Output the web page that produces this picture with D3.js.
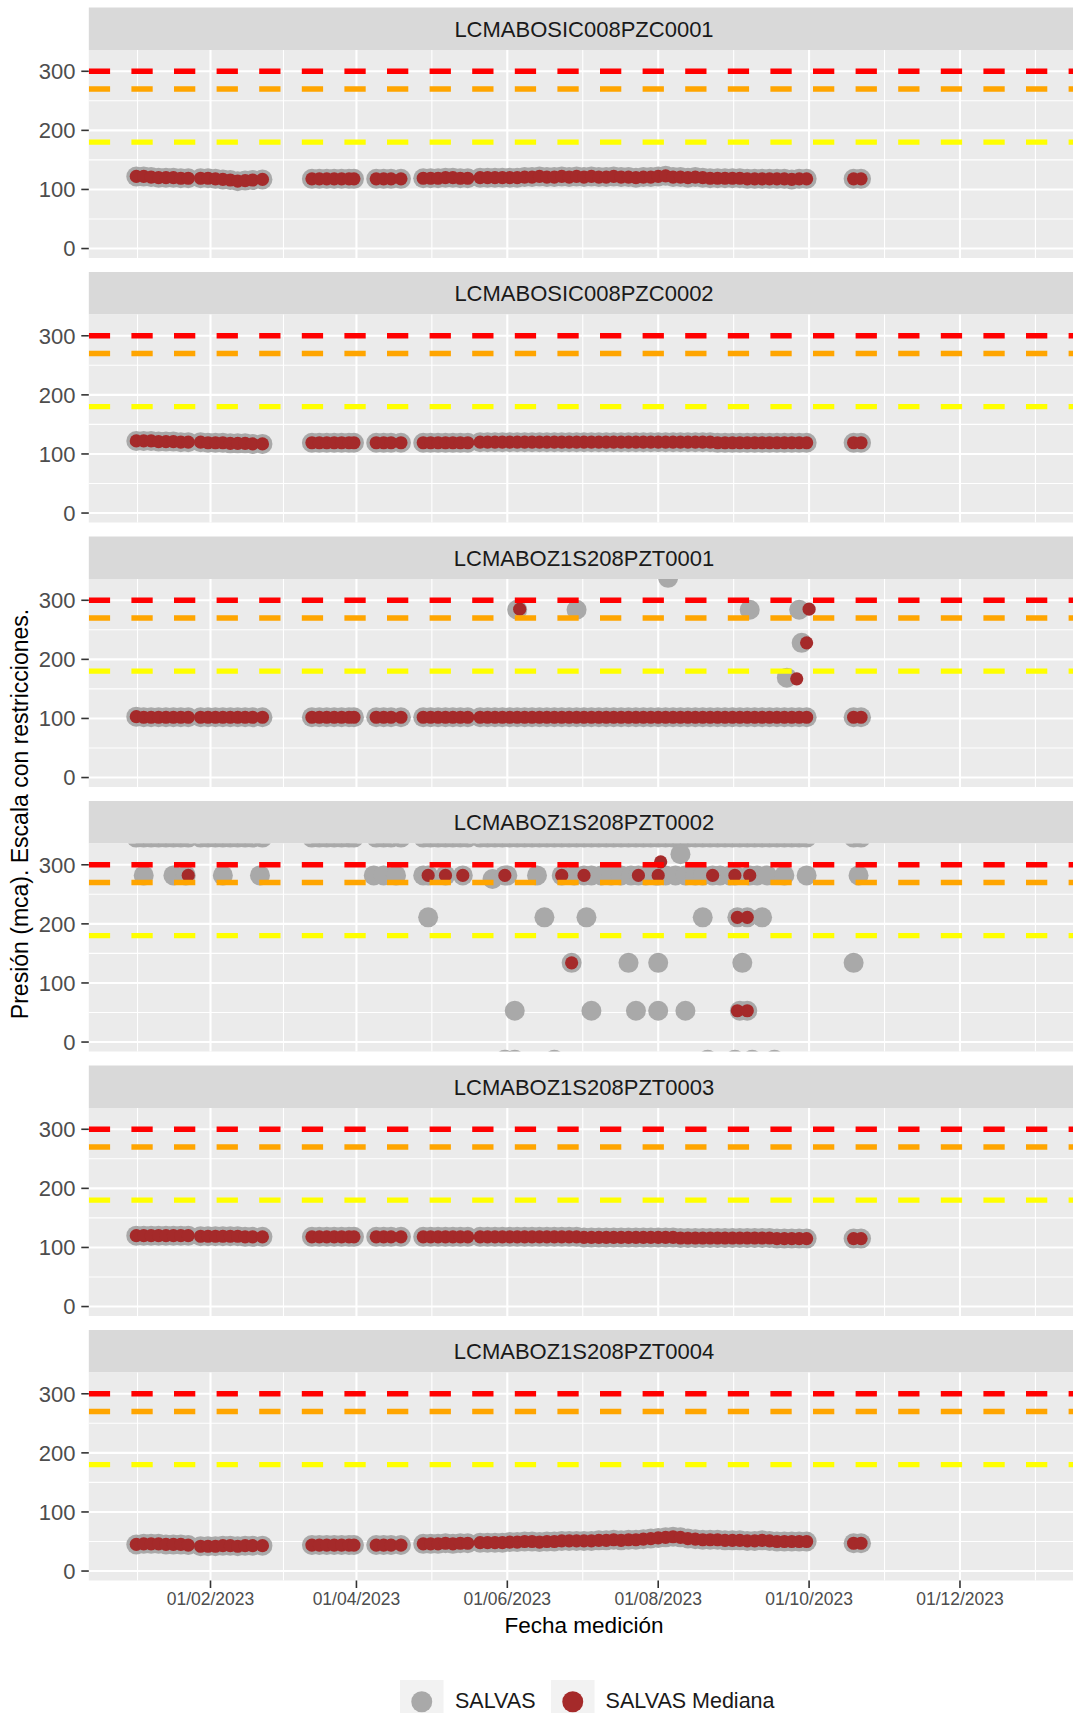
<!DOCTYPE html>
<html><head><meta charset="utf-8">
<script src="https://cdn.jsdelivr.net/npm/d3@7"></script>
<style>
body{margin:0;background:#fff}
svg{display:block;font-family:"Liberation Sans",Arial,Helvetica,sans-serif}
</style>
</head><body>
<svg id="chart" width="1073" height="1713"></svg>
<script>
// ---------------- DATA ----------------
const panelNames = ["LCMABOSIC008PZC0001","LCMABOSIC008PZC0002","LCMABOZ1S208PZT0001","LCMABOZ1S208PZT0002","LCMABOZ1S208PZT0003","LCMABOZ1S208PZT0004"];

const fechas = [
"2023-01-02","2023-01-05","2023-01-08","2023-01-11","2023-01-14","2023-01-17","2023-01-20","2023-01-23","2023-01-28","2023-01-31","2023-02-03","2023-02-06","2023-02-09","2023-02-12","2023-02-15","2023-02-18","2023-02-22",
"2023-03-14","2023-03-17","2023-03-20","2023-03-23","2023-03-26","2023-03-29","2023-03-31",
"2023-04-09","2023-04-12","2023-04-15","2023-04-19",
"2023-04-28","2023-05-01","2023-05-04","2023-05-07","2023-05-10","2023-05-13","2023-05-16","2023-05-21","2023-05-24","2023-05-27","2023-05-30",
"2023-06-02","2023-06-05","2023-06-08","2023-06-11","2023-06-14","2023-06-17","2023-06-20","2023-06-23","2023-06-26","2023-06-29",
"2023-07-02","2023-07-05","2023-07-08","2023-07-11","2023-07-14","2023-07-17","2023-07-20","2023-07-23","2023-07-26","2023-07-29",
"2023-08-01","2023-08-04","2023-08-07","2023-08-10","2023-08-13","2023-08-16","2023-08-19","2023-08-22","2023-08-25","2023-08-28","2023-08-31",
"2023-09-03","2023-09-06","2023-09-09","2023-09-12","2023-09-15","2023-09-18","2023-09-21","2023-09-24","2023-09-27","2023-09-30",
"2023-10-19","2023-10-22"];

const salvasPZC0001 = [
122,122,121,120,120,120,119,119,119,119,118,117,116,114,115,116,117,
118,118,118,118,118,118,118,
118,118,118,118,
119,119,119,120,120,119,119,120,120,120,120,
120,120,121,121,122,121,121,122,121,122,
121,122,121,121,122,121,121,120,121,121,
122,123,121,121,120,121,120,119,119,119,119,
119,118,118,118,118,118,118,117,118,118,
118,118];
const medianaPZC0001 = salvasPZC0001;

const salvasPZC0002 = [
122,122,122,121,121,121,120,120,120,119,119,119,118,118,118,117,117,
119,119,119,119,119,119,119,
119,119,119,119,
119,119,119,119,119,119,119,120,120,120,120,
120,120,120,120,120,120,120,120,120,120,
120,120,120,120,120,120,120,120,120,120,
120,120,120,120,120,120,120,120,119,119,119,
119,119,119,119,119,119,119,119,119,119,
119,119];
const medianaPZC0002 = salvasPZC0002;

const basePZT0001 = [
103,102,102,102,102,102,102,102,102,102,102,102,102,102,102,102,102,
102,102,102,102,102,102,102,
102,102,102,102,
102,102,102,102,102,102,102,102,102,102,102,
102,102,102,102,102,102,102,102,102,102,
102,102,102,102,102,102,102,102,102,102,
102,102,102,102,102,102,102,102,102,102,102,
102,102,102,102,102,102,102,102,102,102,
102,102];
const salvasExtraFechasPZT0001 = ["2023-06-05","2023-06-29","2023-08-05","2023-09-07","2023-09-22","2023-09-27","2023-09-28"];
const salvasExtraValoresPZT0001 = [284,284,338,284,169,284,228];
const medianaExtraFechasPZT0001 = ["2023-06-06","2023-09-26","2023-09-30","2023-10-01"];
const medianaExtraValoresPZT0001 = [285,167,228,285];

// PZT0002: readings above the visible range (clipped at the panel top)
const salvasTopePZT0002 = [
346,346,346,346,346,346,346,346,346,346,346,346,346,346,346,346,346,
346,346,346,346,346,346,346,
346,346,346,346,
346,346,346,346,346,346,346,346,346,346,346,
346,346,346,346,346,346,346,346,346,346,
346,346,346,346,346,346,346,346,346,346,
346,346,346,346,346,346,346,346,346,346,346,
346,346,346,346,346,346,346,346,346,346,
346,346];
const salvasFechasPZT0002 = [
"2023-01-05","2023-01-17","2023-01-22","2023-02-06","2023-02-21",
"2023-04-08","2023-04-12","2023-04-17","2023-04-28","2023-04-30","2023-05-07","2023-05-14","2023-05-26","2023-05-31","2023-06-01","2023-06-13","2023-06-23","2023-06-28",
"2023-07-02","2023-07-05","2023-07-09","2023-07-13","2023-07-17","2023-07-21","2023-07-24","2023-07-27","2023-07-31",
"2023-08-01","2023-08-04","2023-08-08","2023-08-12","2023-08-16","2023-08-19","2023-08-23","2023-08-26","2023-08-30",
"2023-09-01","2023-09-07","2023-09-10","2023-09-14","2023-09-21","2023-09-30","2023-10-21",
"2023-04-30","2023-06-16","2023-07-03","2023-08-19","2023-09-02","2023-09-06","2023-09-12",
"2023-06-27","2023-07-20","2023-08-01","2023-09-04","2023-10-19",
"2023-06-04","2023-07-05","2023-07-23","2023-08-01","2023-08-12","2023-09-03","2023-09-06",
"2023-08-10",
"2023-05-31","2023-06-04","2023-06-20","2023-08-21","2023-09-01","2023-09-08","2023-09-17"];
const salvasValoresPZT0002 = [
282,282,282,282,282,
282,282,282,282,282,282,282,276,282,282,282,282,282,
282,282,282,282,282,282,282,282,282,
282,282,282,282,282,282,282,282,282,
282,282,282,282,282,282,282,
211,211,211,211,211,211,211,
134,134,134,134,134,
53,53,53,53,53,53,53,
318,
-30,-30,-30,-30,-30,-30,-30];
const medianaFechasPZT0002 = ["2023-01-23","2023-04-30","2023-05-07","2023-05-14","2023-05-31","2023-06-23","2023-06-27","2023-07-02","2023-07-24","2023-08-01","2023-08-02","2023-08-23","2023-09-01","2023-09-02","2023-09-02","2023-09-06","2023-09-06","2023-09-07"];
const medianaValoresPZT0002 = [282,282,282,282,282,282,134,282,282,282,305,282,282,211,53,211,53,282];

const salvasPZT0003 = [
120,120,120,120,120,120,120,120,119,119,119,119,119,119,118,118,118,
118,118,118,118,118,118,118,
118,118,118,118,
118,118,118,118,118,118,118,118,118,118,118,
118,118,118,118,118,118,118,118,118,118,
117,117,117,117,117,117,117,117,117,117,
117,117,117,116,116,116,116,116,116,116,116,
116,116,116,116,116,115,115,115,115,115,
115,115];
const medianaPZT0003 = salvasPZT0003;

const salvasPZT0004 = [
45,46,46,46,45,45,45,44,42,42,42,43,43,42,43,43,43,
44,44,44,44,44,44,44,
44,44,44,44,
46,46,46,47,46,47,47,48,48,48,48,
49,49,50,50,49,50,50,51,51,51,
51,51,52,52,53,52,53,53,54,55,
56,57,58,57,55,54,53,53,53,52,52,
52,51,51,52,51,50,50,50,50,50,
47,47];
const medianaPZT0004 = salvasPZT0004;

const limiteRojo = 300, limiteNaranja = 270, limiteAmarillo = 180;
const yTicks = [0, 100, 200, 300];
const yMinor = [50, 150, 250];
const xTickFechas = ["2023-02-01","2023-04-01","2023-06-01","2023-08-01","2023-10-01","2023-12-01"];
const xTickLabels = ["01/02/2023","01/04/2023","01/06/2023","01/08/2023","01/10/2023","01/12/2023"];
const xLimits = ["2023-01-01","2023-12-31"];
const yLimits = [0, 320];
const legendLabels = ["SALVAS","SALVAS Mediana"];

// ---------------- BUILD ----------------
const parse = d3.utcParse("%Y-%m-%d");
const zip = (fs, vs) => fs.map((f, i) => ({date: parse(f), value: vs[i]}));

const panels = [
  {name: panelNames[0], salvas: zip(fechas, salvasPZC0001), mediana: zip(fechas, medianaPZC0001)},
  {name: panelNames[1], salvas: zip(fechas, salvasPZC0002), mediana: zip(fechas, medianaPZC0002)},
  {name: panelNames[2], salvas: zip(fechas, basePZT0001).concat(zip(salvasExtraFechasPZT0001, salvasExtraValoresPZT0001)),
                        mediana: zip(fechas, basePZT0001).concat(zip(medianaExtraFechasPZT0001, medianaExtraValoresPZT0001))},
  {name: panelNames[3], salvas: zip(fechas, salvasTopePZT0002).concat(zip(salvasFechasPZT0002, salvasValoresPZT0002)),
                        mediana: zip(medianaFechasPZT0002, medianaValoresPZT0002)},
  {name: panelNames[4], salvas: zip(fechas, salvasPZT0003), mediana: zip(fechas, medianaPZT0003)},
  {name: panelNames[5], salvas: zip(fechas, salvasPZT0004), mediana: zip(fechas, medianaPZT0004)}
];

const svg = d3.select("#chart");
const xSpan = parse(xLimits[1]) - parse(xLimits[0]);
const x = d3.scaleUtc()
  .domain([new Date(+parse(xLimits[0]) - 0.05 * xSpan), new Date(+parse(xLimits[1]) + 0.05 * xSpan)])
  .range([88.8, 1079.2]);
const ySpan = yLimits[1] - yLimits[0];
const yDom = [yLimits[0] - 0.05 * ySpan, yLimits[1] + 0.05 * ySpan];

const stripH = 42.5, panelH = 208, step = 264.5, top0 = 7.5;
const pl = x.range()[0], pr = x.range()[1];

const majorX = xTickFechas.map(f => x(parse(f)));
const extX = [majorX[0] - (majorX[1] - majorX[0])].concat(majorX, [majorX[majorX.length - 1] + (majorX[majorX.length - 1] - majorX[majorX.length - 2])]);
const minorX = d3.pairs(extX).map(([a, b]) => (a + b) / 2);

const FONT_AX = 22;

panels.forEach((p, k) => {
  const st = top0 + k * step;
  const ptop = st + stripH;
  const pbot = ptop + panelH;
  const y = d3.scaleLinear().domain(yDom).range([pbot, ptop]);
  const g = svg.append("g");

  // strip
  g.append("rect").attr("x", pl).attr("y", st).attr("width", pr - pl).attr("height", stripH).attr("fill", "#D9D9D9");
  g.append("text").attr("x", (pl + pr) / 2).attr("y", st + stripH / 2 + 8)
    .attr("text-anchor", "middle").attr("font-size", 22).attr("fill", "#1A1A1A").text(p.name);

  // panel bg
  g.append("rect").attr("x", pl).attr("y", ptop).attr("width", pr - pl).attr("height", panelH).attr("fill", "#EBEBEB");

  // grid
  g.selectAll(".ymin").data(yMinor).join("line")
    .attr("x1", pl).attr("x2", pr).attr("y1", d => y(d)).attr("y2", d => y(d))
    .attr("stroke", "#fff").attr("stroke-width", 1.1);
  g.selectAll(".xmin").data(minorX.filter(v => v > pl && v < pr)).join("line")
    .attr("x1", d => d).attr("x2", d => d).attr("y1", ptop).attr("y2", pbot)
    .attr("stroke", "#fff").attr("stroke-width", 1.1);
  g.selectAll(".ymaj").data(yTicks).join("line")
    .attr("x1", pl).attr("x2", pr).attr("y1", d => y(d)).attr("y2", d => y(d))
    .attr("stroke", "#fff").attr("stroke-width", 2.1);
  g.selectAll(".xmaj").data(majorX).join("line")
    .attr("x1", d => d).attr("x2", d => d).attr("y1", ptop).attr("y2", pbot)
    .attr("stroke", "#fff").attr("stroke-width", 2.1);

  // clip
  const cid = "clip" + k;
  svg.append("clipPath").attr("id", cid).append("rect")
    .attr("x", pl).attr("y", ptop).attr("width", pr - pl).attr("height", panelH);
  const c = g.append("g").attr("clip-path", `url(#${cid})`);

  c.selectAll(".s").data(p.salvas).join("circle")
    .attr("cx", d => x(d.date)).attr("cy", d => y(d.value)).attr("r", 10).attr("fill", "#A9A9A9");
  c.selectAll(".m").data(p.mediana).join("circle")
    .attr("cx", d => x(d.date)).attr("cy", d => y(d.value)).attr("r", 6.6).attr("fill", "#A52A2A");

  [[limiteRojo, "#FF0000"], [limiteNaranja, "#FFA500"], [limiteAmarillo, "#FFFF00"]].forEach(([v, col]) => {
    c.append("line").attr("x1", pl).attr("x2", pr).attr("y1", y(v)).attr("y2", y(v))
      .attr("stroke", col).attr("stroke-width", 5.3).attr("stroke-dasharray", "21.3,21.3");
  });

  // y axis
  const ya = g.append("g");
  ya.selectAll("line").data(yTicks).join("line")
    .attr("x1", pl - 7.5).attr("x2", pl).attr("y1", d => y(d)).attr("y2", d => y(d))
    .attr("stroke", "#333333").attr("stroke-width", 1.6);
  ya.selectAll("text").data(yTicks).join("text")
    .attr("x", pl - 13.3).attr("y", d => y(d) + 7.9)
    .attr("text-anchor", "end").attr("font-size", FONT_AX).attr("fill", "#4D4D4D").text(d => d);

  // x axis on bottom panel
  if (k === panels.length - 1) {
    const xa = g.append("g");
    xa.selectAll("line").data(xTickFechas).join("line")
      .attr("x1", d => x(parse(d))).attr("x2", d => x(parse(d))).attr("y1", pbot).attr("y2", pbot + 7.5)
      .attr("stroke", "#333333").attr("stroke-width", 1.6);
    xa.selectAll("text").data(xTickFechas).join("text")
      .attr("x", d => x(parse(d))).attr("y", pbot + 24)
      .attr("text-anchor", "middle").attr("font-size", 17.5).attr("fill", "#4D4D4D")
      .text((d, i) => xTickLabels[i]);
    svg.append("text").attr("x", (pl + pr) / 2).attr("y", pbot + 52.5)
      .attr("text-anchor", "middle").attr("font-size", 22.5).attr("fill", "#000").text("Fecha medición");
  }
});

// y title
svg.append("text").attr("transform", "translate(27.5,814) rotate(-90)")
  .attr("text-anchor", "middle").attr("font-size", 23).attr("fill", "#000")
  .text("Presión (mca). Escala con restricciones.");

// legend
const legendKeyX = [400, 551], legendTextX = [455, 605.6], legendColors = ["#A9A9A9", "#A52A2A"];
const lg = svg.append("g");
legendLabels.forEach((lab, i) => {
  lg.append("rect").attr("x", legendKeyX[i]).attr("y", 1680).attr("width", 43.5).attr("height", 43.5).attr("fill", "#F2F2F2");
  lg.append("circle").attr("cx", legendKeyX[i] + 21.75).attr("cy", 1701.75).attr("r", 10.5).attr("fill", legendColors[i]);
  lg.append("text").attr("x", legendTextX[i]).attr("y", 1707.6).attr("font-size", 21.5).attr("fill", "#1A1A1A").text(lab);
});
</script>
</body></html>
